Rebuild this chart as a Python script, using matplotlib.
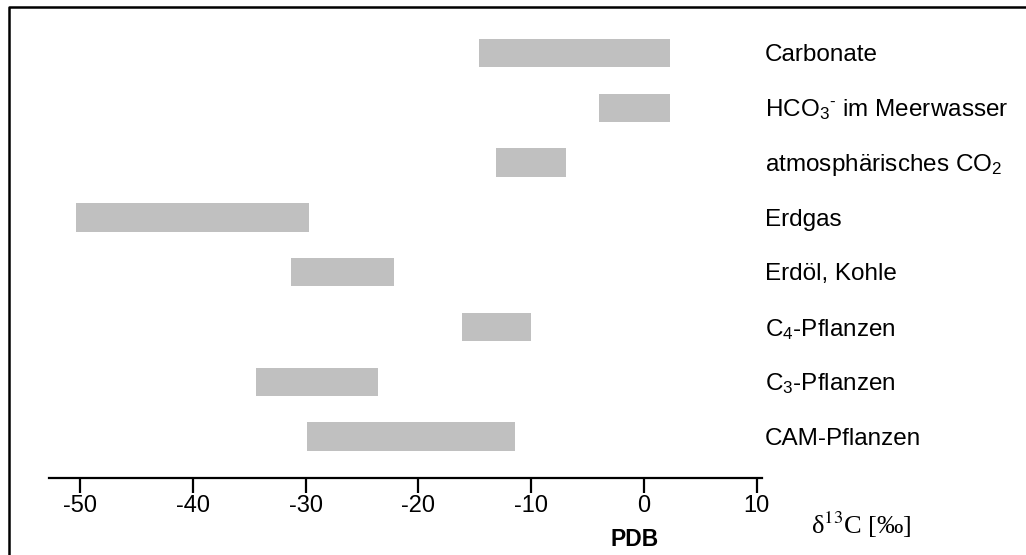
import matplotlib
matplotlib.use("Agg")
import matplotlib.pyplot as plt
from matplotlib.lines import Line2D

# delta 13C ranges (permil, PDB)
labels = ["Carbonate", "HCO$_3$$^{‐}$ im Meerwasser", "atmosphärisches CO$_2$",
          "Erdgas", "Erdöl, Kohle", "C$_4$-Pflanzen", "C$_3$-Pflanzen",
          "CAM-Pflanzen"]
lows = [-14.6, -4.0, -13.1, -50.4, -31.3, -16.1, -34.4, -29.9]
highs = [2.3, 2.3, -6.9, -29.7, -22.2, -10.0, -23.6, -11.4]
ticks = [-50, -40, -30, -20, -10, 0, 10]

plt.rcParams['font.family'] = ['Liberation Sans', 'DejaVu Sans']
plt.rcParams['mathtext.fontset'] = 'custom'
plt.rcParams['mathtext.rm'] = 'Liberation Sans'
plt.rcParams['mathtext.it'] = 'Liberation Sans:italic'
plt.rcParams['axes.unicode_minus'] = False

W, H = 1026, 555
fig = plt.figure(figsize=(W / 100, H / 100), dpi=100)
ax = fig.add_axes([49 / W, 1 - 478 / H, 713 / W, 470 / H])

ypos = list(range(len(labels)))
widths = [h - l for l, h in zip(lows, highs)]
ax.barh(ypos, widths, left=lows, height=0.52, color='#c0c0c0')

ax.set_xlim(-52.75, 10.46)
ax.set_ylim(7.755, -0.821)

for s in ['top', 'right', 'left']:
    ax.spines[s].set_visible(False)
ax.spines['bottom'].set_linewidth(1.6)
ax.set_yticks([])
ax.set_xticks(ticks)
ax.set_xticklabels([str(t) for t in ticks])
ax.tick_params(axis='x', direction='out', length=11, width=1.6, pad=1.5, labelsize=17)

for y, lab in zip(ypos, labels):
    ax.text(1.004, y + 0.04, lab, transform=ax.get_yaxis_transform(), fontsize=17.5,
            va='center', ha='left', clip_on=False)

ax.text(0.822, -0.13, "PDB", transform=ax.transAxes, fontsize=16.5,
        fontweight='bold', ha='center', va='center')
ax.text(1.0687, -0.10, "δ$^{13}$C [‰]", transform=ax.transAxes,
        fontsize=19, ha='left', va='center',
        family=['Liberation Serif', 'DejaVu Serif'], math_fontfamily='stix')

# frame around the picture (only top and left are inside the image)
fig.add_artist(Line2D([8.5 / W, 8.5 / W, 1.0], [0.0, 1 - 7 / H, 1 - 7 / H],
                      transform=fig.transFigure, color='black', linewidth=1.8))

fig.savefig("out.png", dpi=100)
